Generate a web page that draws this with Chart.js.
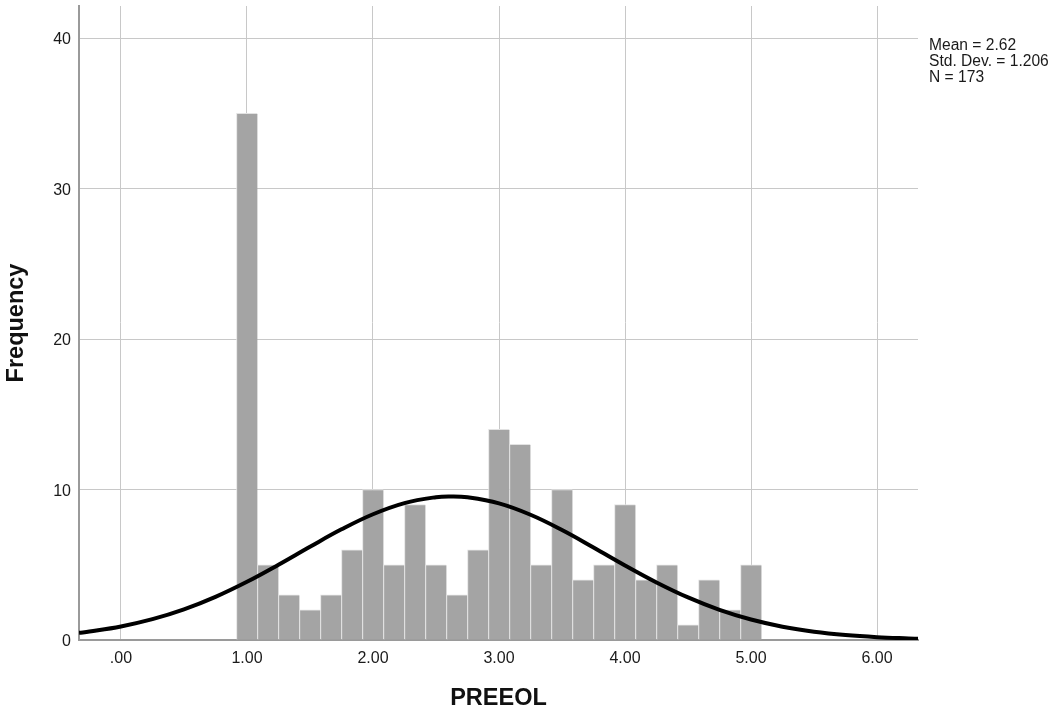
<!DOCTYPE html>
<html><head><meta charset="utf-8">
<script src="https://cdn.jsdelivr.net/npm/chart.js@4"></script>
<style>
html,body{margin:0;padding:0;background:#fff;}
#wrap{position:relative;width:1054px;height:715px;}
#stats{position:absolute;left:929px;top:37px;font:15.6px/16px "Liberation Sans",Arial,sans-serif;color:#1a1a1a;white-space:nowrap;}
</style></head><body>
<div id="wrap"><canvas id="c"></canvas><div id="stats"></div></div>
<script>
// Histogram bins (centres) and counts
const binCenters = [1.0000, 1.1667, 1.3333, 1.5000, 1.6667, 1.8333, 2.0000, 2.1667, 2.3333, 2.5000, 2.6667, 2.8333, 3.0000, 3.1667, 3.3333, 3.5000, 3.6667, 3.8333, 4.0000, 4.1667, 4.3333, 4.5000, 4.6667, 4.8333, 5.0000];
const frequencies = [35, 5, 3, 2, 3, 6, 10, 5, 9, 5, 3, 6, 14, 13, 5, 10, 4, 5, 9, 4, 5, 1, 4, 2, 5];
// Normal curve
const curveX = [-0.333, -0.25, 0, 0.25, 0.5, 0.75, 1.0, 1.25, 1.5, 1.75, 2.0, 2.25, 2.5, 2.62, 2.75, 3.0, 3.25, 3.5, 3.75, 4.0, 4.25, 4.5, 4.75, 5.0, 5.25, 5.5, 5.75, 6.0, 6.25, 6.325];
const curveY = [0.476, 0.562, 0.901, 1.383, 2.034, 2.867, 3.869, 5.003, 6.197, 7.353, 8.357, 9.099, 9.491, 9.538, 9.483, 9.076, 8.322, 7.309, 6.149, 4.956, 3.826, 2.830, 2.005, 1.361, 0.885, 0.551, 0.329, 0.188, 0.103, 0.085];
const xTicks = [0, 1, 2, 3, 4, 5, 6];
const xTickLabels = ['.00', '1.00', '2.00', '3.00', '4.00', '5.00', '6.00'];
const yTicks = [0, 10, 20, 30, 40];
const statLines = ['Mean = 2.62', 'Std. Dev. = 1.206', 'N = 173'];
const xTitle = 'PREEOL';
const yTitle = 'Frequency';

document.getElementById('stats').innerHTML = statLines.join('<br>');

Chart.defaults.font.family = '"Liberation Sans", Arial, sans-serif';
Chart.defaults.color = '#1a1a1a';

new Chart(document.getElementById('c'), {
  type: 'bar',
  data: {
    datasets: [
      {
        type: 'line',
        order: 0,
        data: curveX.map((x, i) => ({x: x, y: curveY[i]})),
        borderColor: '#000',
        borderWidth: 4,
        pointRadius: 0,
        tension: 0.4,
        fill: false
      },
      {
        type: 'bar',
        order: 1,
        data: binCenters.map((x, i) => ({x: x, y: frequencies[i]})),
        backgroundColor: '#a4a4a4',
        borderColor: '#e2e2e2',
        borderWidth: {left: 1, top: 1, right: 0, bottom: 0},
        borderSkipped: false,
        barPercentage: 1,
        categoryPercentage: 1
      }
    ]
  },
  options: {
    responsive: true,
    maintainAspectRatio: false,
    animation: false,
    layout: {padding: {top: 6, right: 136, left: 0, bottom: 0}},
    plugins: {legend: {display: false}, tooltip: {enabled: false}},
    scales: {
      x: {
        type: 'linear',
        min: -0.333,
        max: 6.325,
        offset: false,
        afterBuildTicks: s => { s.ticks = xTicks.map(v => ({value: v})); },
        afterFit: s => { s.height = 75; s.paddingLeft = 0; s.paddingRight = 0; },
        ticks: {
          font: {size: 16},
          padding: 9,
          maxRotation: 0,
          autoSkip: false,
          callback: v => xTickLabels[xTicks.indexOf(v)]
        },
        grid: {color: '#c8c8c8', lineWidth: 1, drawTicks: false, offset: false},
        border: {display: true, color: '#9a9a9a', width: 2},
        title: {display: true, text: xTitle, font: {size: 23.5, weight: 'bold'}, padding: {top: 0, bottom: 2}, color: '#111'}
      },
      y: {
        type: 'linear',
        min: 0,
        max: 42.13,
        afterBuildTicks: s => { s.ticks = yTicks.map(v => ({value: v})); },
        afterFit: s => { s.width = 79; s.paddingTop = 0; s.paddingBottom = 0; },
        ticks: {font: {size: 16}, padding: 8, labelOffset: 2},
        grid: {color: '#c8c8c8', lineWidth: 1, drawTicks: false},
        border: {display: true, color: '#9a9a9a', width: 2},
        title: {display: true, text: yTitle, font: {size: 23.5, weight: 'bold'}, padding: {top: 2, bottom: 0}, color: '#111'}
      }
    }
  }
});
</script>
</body></html>
